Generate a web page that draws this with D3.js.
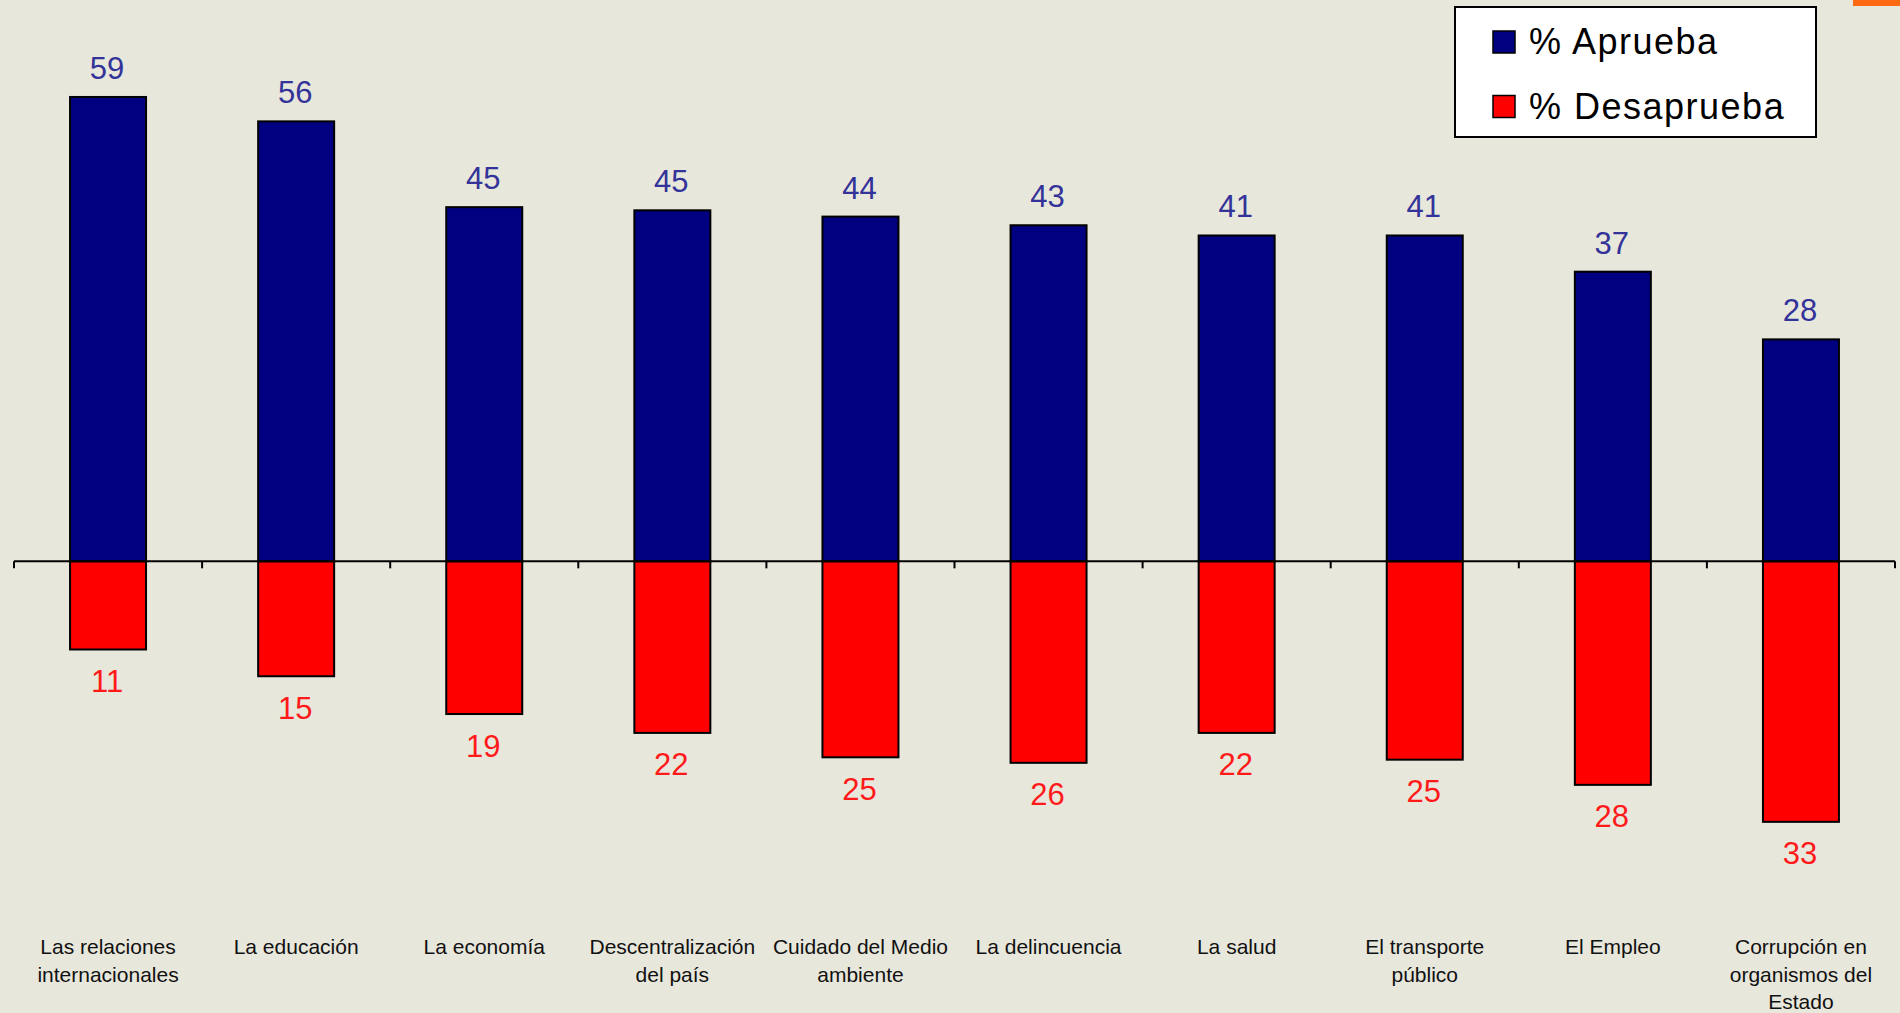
<!DOCTYPE html>
<html>
<head>
<meta charset="utf-8">
<script src="https://cdn.jsdelivr.net/npm/d3@7"></script>
<style>
html,body{margin:0;padding:0;background:#e8e7dc;}
svg{display:block;}
</style>
</head>
<body>
<svg id="chart" width="1900" height="1013"></svg>
<script>
const categories = [
  ["Las relaciones","internacionales"],
  ["La educación"],
  ["La economía"],
  ["Descentralización","del país"],
  ["Cuidado del Medio","ambiente"],
  ["La delincuencia"],
  ["La salud"],
  ["El transporte","público"],
  ["El Empleo"],
  ["Corrupción en","organismos del","Estado"]
];
const aprueba = [59.0, 55.9, 45.0, 44.6, 43.8, 42.7, 41.4, 41.4, 36.8, 28.2];
const desaprueba = [11.2, 14.6, 19.4, 21.8, 24.9, 25.6, 21.8, 25.2, 28.4, 33.1];
const seriesNames = ["% Aprueba", "% Desaprueba"];
const seriesColors = ["#000080", "#ff0000"];
const labelColors = ["#333399", "#ff1a1a"];

const svg = d3.select("#chart");
const W = 1900, H = 1013;
svg.append("rect").attr("width", W).attr("height", H).attr("fill", "#e8e7dc");

const keys = categories.map(c => c.join(" "));
const x = d3.scaleBand().domain(keys).range([14, 1895]).paddingInner(0.596).paddingOuter(0.298);
const y = d3.scaleLinear().domain([-35, 60]).range([836.8, 89.1]);

const data = keys.map((k, i) => ({k, lines: categories[i], a: aprueba[i], d: desaprueba[i]}));

// bars
const g = svg.append("g");
g.selectAll("rect.a").data(data).join("rect")
  .attr("x", d => x(d.k)).attr("width", x.bandwidth())
  .attr("y", d => y(d.a)).attr("height", d => y(0) - y(d.a))
  .attr("fill", seriesColors[0]).attr("stroke", "#000").attr("stroke-width", 2);
g.selectAll("rect.d").data(data).join("rect")
  .attr("x", d => x(d.k)).attr("width", x.bandwidth())
  .attr("y", y(0)).attr("height", d => y(-d.d) - y(0))
  .attr("fill", seriesColors[1]).attr("stroke", "#000").attr("stroke-width", 2);

// axis line + ticks at band boundaries
const gap = (x.step() - x.bandwidth()) / 2;
const bounds = keys.map(k => x(k) - gap).concat([x(keys[keys.length-1]) + x.bandwidth() + gap]);
svg.append("line").attr("x1", bounds[0]).attr("x2", bounds[bounds.length-1])
  .attr("y1", y(0)).attr("y2", y(0)).attr("stroke", "#000").attr("stroke-width", 2);
svg.selectAll("line.tick").data(bounds).join("line")
  .attr("x1", d => d).attr("x2", d => d).attr("y1", y(0)).attr("y2", y(0) + 7)
  .attr("stroke", "#000").attr("stroke-width", 2);

// value labels
const fmt = v => String(Math.round(v));
svg.selectAll("text.a").data(data).join("text")
  .attr("x", d => x(d.k) + x.bandwidth()/2 - 1).attr("y", d => y(d.a) - 18)
  .attr("text-anchor", "middle").attr("font-family", "Liberation Sans, Arial, sans-serif")
  .attr("font-size", 31).attr("fill", labelColors[0]).text(d => fmt(d.a));
svg.selectAll("text.d").data(data).join("text")
  .attr("x", d => x(d.k) + x.bandwidth()/2 - 1).attr("y", d => y(-d.d) + 42.5)
  .attr("text-anchor", "middle").attr("font-family", "Liberation Sans, Arial, sans-serif")
  .attr("font-size", 31).attr("fill", labelColors[1]).text(d => fmt(d.d));

// category labels
const cat = svg.selectAll("text.cat").data(data).join("text")
  .attr("text-anchor", "middle").attr("font-family", "Liberation Sans, Arial, sans-serif")
  .attr("font-size", 21).attr("fill", "#111");
cat.each(function(d){
  const t = d3.select(this);
  d.lines.forEach((ln, j) => {
    t.append("tspan").attr("x", x(d.k) + x.bandwidth()/2).attr("y", 954 + j*27.5).text(ln);
  });
});

// legend
const lg = svg.append("g");
lg.append("rect").attr("x", 1455).attr("y", 7).attr("width", 361).attr("height", 130)
  .attr("fill", "#fff").attr("stroke", "#000").attr("stroke-width", 2);
seriesNames.forEach((n, i) => {
  lg.append("rect").attr("x", 1493).attr("y", 31 + i*64.5).attr("width", 22).attr("height", 22)
    .attr("fill", seriesColors[i]).attr("stroke", "#000").attr("stroke-width", 1.5);
  lg.append("text").attr("x", 1529).attr("y", 54 + i*65)
    .attr("font-family", "Liberation Sans, Arial, sans-serif").attr("font-size", 36)
    .attr("letter-spacing", 1.5).attr("fill", "#000").text(n);
});

// orange corner mark
svg.append("rect").attr("x", 1853).attr("y", 0).attr("width", 47).attr("height", 6).attr("fill", "#ff6a13");
</script>
</body>
</html>
